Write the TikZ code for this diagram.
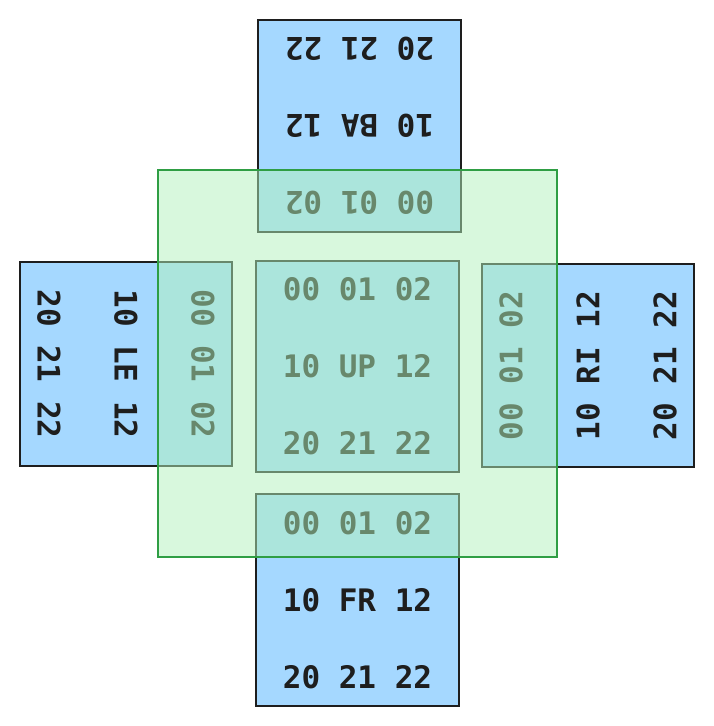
\documentclass[tikz,border=0pt]{standalone}
\usepackage{fontspec}
\setmonofont{DejaVu Sans Mono}
\definecolor{bluefill}{HTML}{A5D8FF}
\definecolor{inkline}{HTML}{1E1E1E}
\definecolor{greenfill}{HTML}{B2F2BB}
\definecolor{greenline}{HTML}{2F9E44}
\tikzset{
  facebox/.style={draw=inkline, fill=bluefill, line width=1.8pt, inner sep=0pt},
  facetext/.style={text=inkline, align=center, inner sep=0pt,
    font=\fontsize{31}{77}\selectfont\ttfamily\bfseries},
  overlay/.style={fill=greenfill, fill opacity=0.5, draw=greenline, line width=1.8pt, inner sep=0pt}
}
\begin{document}
\begin{tikzpicture}[x=1pt,y=-1pt]
\useasboundingbox (0,0) rectangle (714,726);
% top (BA)
\node[facebox, minimum width=203pt, minimum height=212pt] (ba) at (359.5,126) {};
\node[facetext, rotate=180] (bat) at (ba.center) {00 01 02\\10 BA 12\\20 21 22};
% left (LE)
\node[facebox, minimum width=212pt, minimum height=204pt] (le) at (126,364) {};
\node[facetext, rotate=-90] (let) at (le.center) {00 01 02\\10 LE 12\\20 21 22};
% right (RI)
\node[facebox, minimum width=212pt, minimum height=203pt] (ri) at (588,365.5) {};
\node[facetext, rotate=90] (rit) at (ri.center) {00 01 02\\10 RI 12\\20 21 22};
% bottom (FR)
\node[facebox, minimum width=203pt, minimum height=212pt] (fr) at (357.5,600) {};
\node[facetext] (frt) at (fr.center) {00 01 02\\10 FR 12\\20 21 22};
% center (UP)
\node[facebox, minimum width=203pt, minimum height=211pt] (up) at (357.5,366.5) {};
\node[facetext] (upt) at (up.center) {00 01 02\\10 UP 12\\20 21 22};
% green overlay
\node[overlay, minimum width=399pt, minimum height=387pt] (green) at (357.5,363.5) {};
\end{tikzpicture}
\end{document}
